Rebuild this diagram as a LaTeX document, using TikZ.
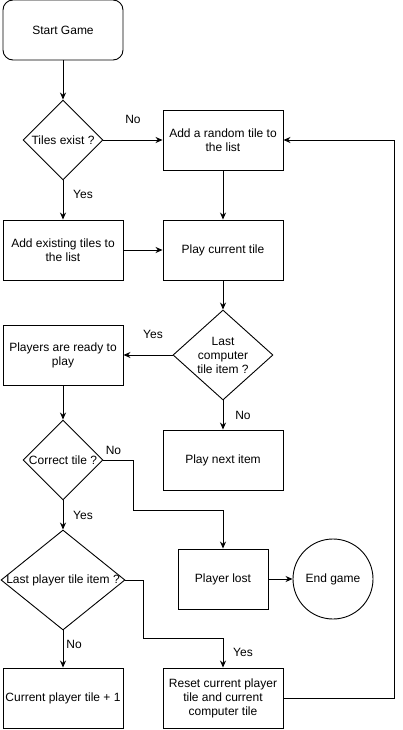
\documentclass[tikz,border=0pt]{standalone}
\usepackage{fontspec}
\setmainfont{Liberation Sans}
\usetikzlibrary{shapes,arrows.meta,positioning}

\begin{document}
\begin{tikzpicture}[x=1pt,y=-1pt,line width=0.9pt,
    font=\fontsize{12}{14}\selectfont,
    >={Stealth[length=7pt,width=6pt]},
    box/.style={draw, rectangle, minimum width=120pt, minimum height=60pt, align=center, inner sep=2pt},
    startbox/.style={box, rounded corners=10pt},
    decision/.style={draw, diamond, inner sep=0pt},
    endbox/.style={draw, circle, minimum size=80pt, inner sep=0pt},
    lbl/.style={inner sep=0pt}]

\useasboundingbox (0,0) rectangle (402,730);

\node[startbox] (start) at (63,30) {Start Game};
\node[decision, minimum width=80pt, minimum height=80pt, label={center:Tiles exist ?}] (tiles) at (63,140) {};
\node[box] (random) at (223,140) {Add a random tile to\\the list};
\node[box] (existing) at (63,250) {Add existing tiles to\\the list};
\node[box] (play) at (223,250) {Play current tile};
\node[decision, minimum width=100pt, minimum height=90pt, label={[align=center]center:Last\\computer\\tile item ?}] (lastcomp) at (223,355) {};
\node[box] (ready) at (63,355) {Players are ready to\\play};
\node[box] (next) at (223,460) {Play next item};
\node[decision, minimum width=80pt, minimum height=80pt, label={center:Correct tile ?}] (correct) at (63,460) {};
\node[decision, minimum width=124pt, minimum height=100pt, label={center:Last player tile item ?}] (lastplayer) at (63,580) {};
\node[box, minimum width=90pt] (lost) at (223,579) {Player lost};
\node[endbox] (end) at (333,579) {End game};
\node[box] (current) at (63,698) {Current player tile + 1};
\node[box] (reset) at (223,698) {Reset current player\\tile and current\\computer tile};

\draw[->] (start) -- (tiles);
\draw[->] (tiles) -- node[lbl, yshift=21pt] {No} (random);
\draw[->] (tiles) -- node[lbl, xshift=20pt, yshift=6pt] {Yes} (existing);
\draw[->] (random) -- (play);
\draw[->] (existing) -- (play);
\draw[->] (play) -- (lastcomp);
\draw[->] (lastcomp) -- node[lbl, xshift=5pt, yshift=21pt] {Yes} (ready);
\draw[->] (lastcomp) -- node[lbl, xshift=20pt] {No} (next);
\draw[->] (ready) -- (correct);
\draw[->] (correct.east) node[lbl, xshift=10pt, yshift=10pt] {No} -| ++(30,50) -| (lost);
\draw[->] (correct) -- node[lbl, xshift=20pt] {Yes} (lastplayer);
\draw[->] (lastplayer) -- node[lbl, anchor=west, xshift=3pt, yshift=5pt] {No} (current);
\draw[->] (lastplayer.east) -| ++(18,58) -| node[lbl, pos=0.75, xshift=20pt] {Yes} (reset);
\draw[->] (lost) -- (end);
\draw[->] (reset.east) -- ++(111,0) |- (random.east);

\end{tikzpicture}
\end{document}
